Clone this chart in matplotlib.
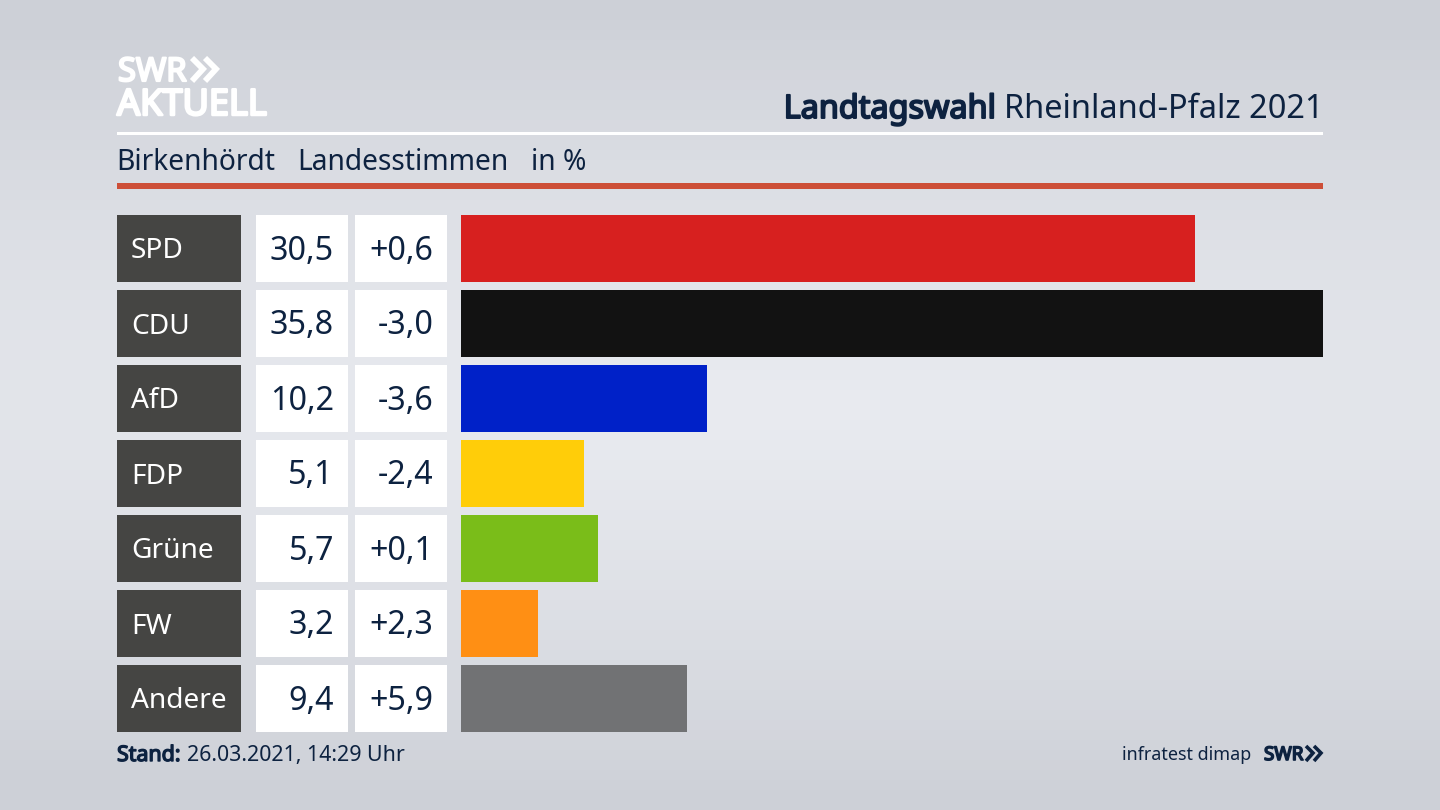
import matplotlib
matplotlib.use("Agg")
import matplotlib.pyplot as plt
from matplotlib.patches import Rectangle
from matplotlib import patheffects as pe
import numpy as np

parties = ["SPD", "CDU", "AfD", "FDP", "Grüne", "FW", "Andere"]
shares = [30.5, 35.8, 10.2, 5.1, 5.7, 3.2, 9.4]
share_labels = ["30,5", "35,8", "10,2", "5,1", "5,7", "3,2", "9,4"]
diff_labels = ["+0,6", "-3,0", "-3,6", "-2,4", "+0,1", "+2,3", "+5,9"]
colors = ["#d7201f", "#121212", "#0021c8", "#ffcd09", "#7abd19", "#ff8f14", "#717274"]

NAVY = "#0d2240"
plt.rcParams["font.family"] = ["Noto Sans", "DejaVu Sans"]


def heavy(color, width):
    # installed Noto Sans draws regular weight only, so thicken with a stroke
    return [pe.withStroke(linewidth=width, foreground=color)]


fig = plt.figure(figsize=(14.4, 8.1), dpi=100)

# page in pixel coordinates
ax = fig.add_axes([0, 0, 1, 1])
ax.set_xlim(0, 1440)
ax.set_ylim(810, 0)
ax.axis("off")

# soft background, lightest in the middle
yy, xx = np.mgrid[0:1:81j, 0:1:144j]
dist = np.clip(np.sqrt(((yy - 0.5) / 0.5) ** 2 + 0.12 * ((xx - 0.5) / 0.5) ** 2), 0, 1)
light = np.array([233, 235, 240]) / 255
dark = np.array([205, 208, 215]) / 255
bg = light + (dark - light) * dist[..., None] ** 1.3
ax.imshow(bg, extent=[0, 1440, 810, 0], aspect="auto", zorder=0)

# logo
ax.text(118, 81, "SWR", color="white", fontsize=23.5, va="baseline", ha="left",
        path_effects=heavy("white", 1.6))
ax.text(117, 115, "AKTUELL", color="white", fontsize=26, va="baseline", ha="left",
        path_effects=heavy("white", 1.8))
for x0 in (192, 205):
    ax.plot([x0, x0 + 11, x0], [58, 69, 81], color="white", lw=4.2,
            solid_joinstyle="miter", solid_capstyle="butt")

# header
ax.text(1323, 118, "Rheinland-Pfalz 2021", color=NAVY, fontsize=23.4, ha="right", va="baseline")
ax.text(996, 118, "Landtagswahl", color=NAVY, fontsize=23.3, ha="right", va="baseline",
        path_effects=heavy(NAVY, 1.4))
ax.add_patch(Rectangle((117, 132), 1206, 3, color="white", lw=0, zorder=2))
ax.text(116, 170, "Birkenhördt", color=NAVY, fontsize=20.3, va="baseline")
ax.text(297, 170, "Landesstimmen", color=NAVY, fontsize=20.3, va="baseline")
ax.text(531, 170, "in %", color=NAVY, fontsize=20.3, va="baseline")
ax.add_patch(Rectangle((117, 183), 1206, 6, color="#cd4f38", lw=0, zorder=2))

# table cells next to the bars
for i, party in enumerate(parties):
    top = 215 + 75 * i
    mid = top + 33.5
    ax.add_patch(Rectangle((117, top), 124, 67, color="#454543", lw=0, zorder=2))
    ax.add_patch(Rectangle((256, top), 92, 67, color="white", lw=0, zorder=2))
    ax.add_patch(Rectangle((355, top), 92, 67, color="white", lw=0, zorder=2))
    ax.text(131, mid + 10, party, color="white", fontsize=20.2, va="baseline", zorder=3)
    ax.text(334, mid + 11, share_labels[i], color=NAVY, fontsize=23.2, ha="right", va="baseline", zorder=3)
    ax.text(433.5, mid + 11, diff_labels[i], color=NAVY, fontsize=23.2, ha="right", va="baseline", zorder=3)

# footer
ax.text(117, 761, "Stand:", color=NAVY, fontsize=15.4, va="baseline", path_effects=heavy(NAVY, 1.0))
ax.text(187, 761, "26.03.2021, 14:29 Uhr", color=NAVY, fontsize=15.4, va="baseline")
ax.text(1251, 760, "infratest dimap", color=NAVY, fontsize=12.9, ha="right", va="baseline")
ax.text(1264, 760, "SWR", color=NAVY, fontsize=13.5, va="baseline", path_effects=heavy(NAVY, 1.2))
for x0 in (1306, 1314):
    ax.plot([x0, x0 + 7, x0], [746, 753, 761], color=NAVY, lw=2.6,
            solid_joinstyle="miter", solid_capstyle="butt")

# bars
bar_ax = fig.add_axes([461 / 1440, (810 - 736) / 810, 862 / 1440, 525 / 810])
bar_ax.barh(range(len(parties)), shares, height=67 / 75, color=colors)
bar_ax.set_xlim(0, max(shares))
bar_ax.set_ylim(len(parties) - 0.5, -0.5)
bar_ax.axis("off")

fig.savefig("out.png", dpi=100)
